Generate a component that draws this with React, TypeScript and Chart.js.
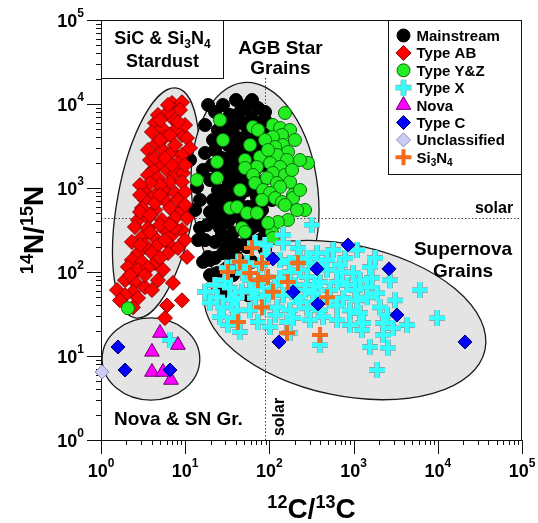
import React, { useEffect, useRef } from 'react';
import { Chart, registerables } from 'chart.js';
import { drawPoint } from 'chart.js/helpers';

Chart.register(...registerables);

const FONT = '"Liberation Sans", Arial, Helvetica, sans-serif';

// ---- data: [12C/13C, 14N/15N] ----
const mainstream: number[][] = [
  [18.7, 9730], [28.1, 9730], [55.7, 9730], [73.2, 8960], [88.7, 8035], [44.8, 8035], [34.0, 7396], [62.1, 6814],
  [81.7, 6106], [49.9, 5781], [37.0, 5180], [17.2, 5623], [24.5, 4904], [67.5, 4640], [91.2, 4276], [42.4, 3939],
  [21.4, 3728], [54.2, 3530], [32.2, 3250], [77.3, 2994], [39.0, 2834], [17.2, 2610], [58.9, 2472], [27.3, 2277],
  [11.4, 2154], [84.0, 2154], [44.8, 1985], [34.0, 1730], [16.3, 1638], [67.5, 1638], [51.3, 1428], [24.5, 1428],
  [19.7, 1245], [39.0, 1178], [81.7, 1178], [58.9, 1000], [13.8, 1028], [29.7, 947], [44.8, 826], [71.2, 781],
  [15.0, 720], [23.9, 760], [35.9, 663], [55.7, 594], [13.1, 547], [19.7, 518], [81.7, 547], [31.3, 477],
  [44.8, 439], [67.5, 394], [18.2, 363], [25.9, 334], [37.0, 291], [54.2, 276], [14.2, 240], [22.6, 228],
  [34.0, 261], [77.3, 240], [31.3, 198], [54.2, 198], [28.1, 168], [18.7, 151], [41.2, 147], [19.7, 139],
  [62.1, 132], [23.9, 97], [19.7, 92], [37.0, 92], [27.3, 56], [58.9, 56], [88.7, 183], [102, 334],
  [107, 720], [102, 1428], [102, 2834], [51.3, 1086], [32.2, 2154], [62.1, 3728], [42.4, 6450], [29.7, 4276],
  [22.6, 2834], [47, 1638], [73.2, 477], [48.6, 363], [21.4, 720], [25.9, 547], [16.3, 132], [22.6, 74],
  [55.7, 53], [40.1, 11160], [62.1, 11160], [32.2, 5623], [55.7, 4904], [73.2, 3728], [35.9, 2472], [52.7, 2834],
  [67.5, 2154], [27.3, 1730], [42.4, 1428], [32.2, 1245], [62.1, 1245], [67.5, 628], [35.9, 947], [24.5, 947],
  [44.8, 628], [32.2, 394], [62.1, 334], [42.4, 210], [22.6, 147], [34.0, 121], [48.6, 121], [29.7, 80],
  [77.3, 363], [88.7, 720], [81.7, 1880], [88.7, 6450], [22.6, 8035], [51.3, 8960], [73.2, 5623], [29.7, 3530],
  [44.8, 2834], [81.7, 2472], [20.8, 1879], [58.9, 1316], [29.7, 720], [54.2, 947], [41.2, 518], [22.6, 416],
  [58.9, 439], [17.2, 240], [27.3, 276], [34.0, 159], [15.0, 334], [88.7, 316],
];

const typeAB: number[][] = [
  [6.97, 10280], [9.16, 10500], [8.67, 8483], [6.97, 6814], [4.38, 5940], [4.03, 4640], [5.30, 5180], [5.75, 4048],
  [9.16, 4276], [10.5, 3939], [4.62, 3434], [3.62, 2834], [5.45, 2834], [6.97, 2683], [9.16, 2472], [8.21, 1985],
  [5.02, 1985], [4.15, 1638], [6.08, 1638], [7.56, 1509], [9.42, 1509], [3.62, 1428], [4.75, 1316], [6.60, 1178],
  [9.16, 1178], [3.33, 896], [4.38, 826], [5.75, 896], [7.56, 872], [9.95, 896], [3.33, 720], [5.75, 720],
  [3.07, 578], [4.38, 547], [6.60, 578], [9.16, 547], [2.75, 416], [3.62, 439], [5.30, 416], [7.56, 439],
  [10.5, 439], [2.53, 343], [3.62, 334], [5.75, 316], [9.16, 316], [3.07, 261], [4.38, 254], [6.97, 276],
  [2.33, 228], [9.95, 240], [3.33, 210], [4.75, 210], [6.25, 221], [2.75, 168], [4.03, 168], [6.25, 168],
  [10.5, 151], [2.33, 139], [3.07, 132], [4.38, 128], [2.09, 115], [2.75, 106], [3.62, 112], [5.45, 106],
  [4.75, 80], [1.93, 80], [2.53, 76], [3.33, 66], [7.16, 74], [1.55, 61], [2.40, 58], [4.03, 61],
  [2.75, 49], [9.16, 46], [6.08, 40], [2.40, 38], [6.25, 8035], [5.02, 3728], [7.56, 3250], [3.82, 2154],
  [6.97, 1879], [5.02, 1086], [3.82, 1147], [8.21, 720], [4.38, 663], [2.91, 518], [5.02, 363], [7.56, 334],
  [3.82, 299], [5.75, 240], [8.21, 193], [5.02, 147], [3.33, 92], [1.93, 53], [8.0, 5180], [9.95, 5623],
  [2.91, 1086], [4.75, 7396], [11.4, 2994], [1.68, 46], [5.75, 28.3], [6.25, 9730], [5.02, 6450], [8.21, 6106],
  [6.60, 4276], [4.38, 2277], [5.75, 2277], [9.95, 1879], [2.91, 826], [5.02, 826], [9.95, 628], [3.82, 477],
  [6.60, 363], [2.91, 210], [2.21, 92],
];

const typeYZ: number[][] = [
  [25.9, 6450], [153, 7817], [110, 5623], [134, 5180], [176, 4904], [63.8, 5322], [73.2, 4904], [28.1, 3728],
  [141, 4276], [110, 4048], [145, 3250], [58.9, 3250], [117, 3077], [166, 2683], [123, 2472], [77.3, 2340],
  [51.3, 2154], [23.9, 2040], [287, 1985], [162, 2154], [102, 1985], [71.2, 1778], [134, 1778], [51.3, 1730],
  [110, 1509], [153, 1428], [93.6, 1316], [23.9, 1316], [13.8, 1245], [63.8, 1428], [67.5, 1147], [123, 1147],
  [176, 1178], [44.8, 947], [84.0, 947], [134, 1028], [102, 872], [191, 826], [34.0, 578], [41.2, 594],
  [54.2, 504], [71.2, 504], [47.3, 334], [51.3, 299], [117, 760], [141, 681], [191, 760], [265, 547],
  [213, 547], [166, 416], [126, 394], [107, 299], [110, 254], [96.2, 383], [2.09, 37], [88.7, 3728],
  [201, 3728], [231, 2154], [81.7, 720], [153, 628], [231, 947], [96.2, 2834], [186, 1638],
];

const typeX: number[][] = [
  [321, 363], [145, 276], [67.5, 221], [88.7, 210], [145, 221], [219, 193], [367, 168], [569, 183],
  [1097, 183], [689, 121], [42.4, 132], [54.2, 128], [77.3, 121], [134, 139], [176, 128], [304, 128],
  [483, 106], [1566, 115], [984, 97], [2706, 80], [31.3, 112], [48.6, 97], [93.6, 87], [134, 85],
  [280, 87], [399, 76], [635, 76], [835, 70], [1443, 66], [1897, 56], [17.2, 58], [23.9, 50],
  [34.0, 65], [47.3, 58], [71.2, 66], [102, 58], [145, 53], [213, 50], [330, 56], [525, 46],
  [748, 49], [1097, 46], [1443, 50], [28.1, 38], [41.2, 35], [58.9, 35], [84.0, 38], [123, 38],
  [176, 35], [280, 37], [399, 35], [635, 40], [906, 35], [1191, 32.5], [2059, 38], [2495, 30.8],
  [25.9, 29.1], [37.0, 28.3], [102, 22.1], [162, 25.4], [191, 28.3], [433, 29.1], [635, 26.8], [1294, 24.7],
  [2235, 24.7], [2938, 21.5], [4306, 23.4], [6143, 61], [9780, 28.3], [44.8, 19.3], [176, 18.8], [399, 13.5],
  [1259, 20.4], [2235, 17.8], [1566, 12.8], [2564, 12.5], [1897, 6.81], [280, 147], [483, 139], [35.9, 46],
  [96.2, 53], [58.9, 80], [117, 70], [201, 70], [67.5, 49], [231, 106], [348, 70], [525, 61],
  [1191, 80], [790, 147], [19.7, 43], [29.7, 80], [96.2, 159], [231, 44], [6.60, 15.5], [22.6, 70],
  [39.0, 49], [62.1, 61], [81.7, 76], [176, 100], [265, 61], [378, 46], [728, 100], [1040, 61],
  [1655, 85], [3102, 46], [906, 23.4], [304, 26.8], [117, 30.8], [32.2, 23.4], [73.2, 25.4], [231, 147],
  [422, 121], [1795, 147],
];

const nova: number[][] = [
  [5.02, 18.8], [8.21, 13.5], [4.03, 11.2], [4.03, 6.45], [5.45, 6.45], [6.78, 5.18],
];

const typeC: number[][] = [
  [858, 210], [110, 143], [367, 109], [2633, 109], [191, 58], [378, 41.6], [3276, 30.8], [130, 14.7],
  [21040, 14.7], [1.59, 12.8], [1.93, 6.81], [6.60, 6.81],
];

const unclassified: number[][] = [[1.03, 6.45]];

const si3n4: number[][] = [
  [62.1, 193], [81.7, 128], [219, 128], [32.2, 100], [58.9, 97], [73.2, 80], [96.2, 87], [166, 76],
  [81.7, 38], [42.4, 25.4], [483, 50], [162, 18.8], [399, 17.8], [44.8, 132], [110, 58],
];

// ---- axes ----
const decades = [1, 10, 100, 1000, 10000, 100000];
const decadeExponents = ['0', '1', '2', '3', '4', '5'];
const minorMultipliers = [2, 3, 4, 5, 6, 7, 8, 9];

// solar reference values
const solarC = 89;
const solarN = 441;
const solarCLineTop = 21000;

// ---- region ellipses: centre (data), semi-axes in decades, rotation deg ----
const regions = [
  { cx: 4.5, cy: 663, rx: 0.46, ry: 1.39, rot: 10.3 },
  { cx: 67.5, cy: 826, rx: 0.75, ry: 1.345, rot: -6 },
  { cx: 790, cy: 26.8, rx: 1.70, ry: 0.90, rot: 12 },
  { cx: 3.92, cy: 9.21, rx: 0.58, ry: 0.49, rot: 0 },
];

type Part = { t: string; size: number; dy?: number };

const P = (t: string, size: number, dy = 0): Part => ({ t, size, dy });

const stardustBox = { x1: 1, y1: 100000, x2: 28.1, y2: 20390 };
const stardustLines: Part[][] = [
  [P('SiC & Si', 18), P('3', 12, 4), P('N', 18), P('4', 12, 4)],
  [P('Stardust', 18)],
];

const notes = [
  { lines: [[P('AGB Star', 19)], [P('Grains', 19)]], x: 135, y: 35780, lh: 20 },
  { lines: [[P('Supernova', 19)], [P('Grains', 19)]], x: 19925, y: 142.8, lh: 22 },
  { lines: [[P('Nova & SN Gr.', 19)]], x: 8.32, y: 1.83, lh: 20 },
];

const seriesDefs = [
  { parts: [P('Mainstream', 15)], data: mainstream, pointStyle: 'circle', radius: 6.5, bg: '#000000', border: '#000000', bw: 1, order: 9 },
  { parts: [P('Type AB', 15)], data: typeAB, pointStyle: 'rectRot', radius: 7.5, bg: '#ff0000', border: '#8a0000', bw: 1, order: 8 },
  { parts: [P('Type Y&Z', 15)], data: typeYZ, pointStyle: 'circle', radius: 6.5, bg: '#22ee22', border: '#0b6b0b', bw: 1, order: 7 },
  { parts: [P('Type X', 15)], data: typeX, pointStyle: 'cross', radius: 8, bg: '#33ffff', border: '#33ffff', bw: 4, outline: '#86acac', order: 6 },
  { parts: [P('Nova', 15)], data: nova, pointStyle: 'triangle', radius: 8.5, bg: '#ff00ff', border: '#6a006a', bw: 1, order: 5 },
  { parts: [P('Type C', 15)], data: typeC, pointStyle: 'rectRot', radius: 7, bg: '#0000ff', border: '#00006a', bw: 1, order: 4 },
  { parts: [P('Unclassified', 15)], data: unclassified, pointStyle: 'rectRot', radius: 7, bg: '#ccccf5', border: '#8c8cb4', bw: 1, order: 3 },
  { parts: [P('Si', 15), P('3', 10, 3), P('N', 15), P('4', 10, 3)], data: si3n4, pointStyle: 'cross', radius: 8, bg: '#f26c1c', border: '#f26c1c', bw: 4, order: 2 },
];

function partsWidth(ctx: CanvasRenderingContext2D, parts: Part[]) {
  let w = 0;
  for (const p of parts) {
    ctx.font = `bold ${p.size}px ${FONT}`;
    w += ctx.measureText(p.t).width;
  }
  return w;
}

function drawParts(ctx: CanvasRenderingContext2D, parts: Part[], x: number, y: number, align: string) {
  const w = partsWidth(ctx, parts);
  let cx = align === 'left' ? x : align === 'center' ? x - w / 2 : x - w;
  ctx.textAlign = 'left';
  ctx.textBaseline = 'alphabetic';
  for (const p of parts) {
    ctx.font = `bold ${p.size}px ${FONT}`;
    ctx.fillText(p.t, cx, y + (p.dy || 0));
    cx += ctx.measureText(p.t).width;
  }
  return w;
}

const decor = {
  id: 'decor',
  beforeDatasetsDraw(chart: any) {
    const { ctx, chartArea: a, scales } = chart;
    const xs = scales.x, ys = scales.y;
    const decX = Math.abs(xs.getPixelForValue(10) - xs.getPixelForValue(1));
    const decY = Math.abs(ys.getPixelForValue(10) - ys.getPixelForValue(1));
    ctx.save();

    for (const r of regions) {
      ctx.beginPath();
      ctx.ellipse(xs.getPixelForValue(r.cx), ys.getPixelForValue(r.cy), r.rx * decX, r.ry * decY, (r.rot * Math.PI) / 180, 0, Math.PI * 2);
      ctx.fillStyle = '#e4e4e4';
      ctx.fill();
      ctx.lineWidth = 1.3;
      ctx.strokeStyle = '#1a1a1a';
      ctx.stroke();
    }

    ctx.setLineDash([1.5, 2]);
    ctx.lineWidth = 1;
    ctx.strokeStyle = '#444';
    const sx = Math.round(xs.getPixelForValue(solarC)) + 0.5;
    const sy = Math.round(ys.getPixelForValue(solarN)) + 0.5;
    ctx.beginPath();
    ctx.moveTo(sx, a.bottom);
    ctx.lineTo(sx, ys.getPixelForValue(solarCLineTop));
    ctx.moveTo(a.left, sy);
    ctx.lineTo(a.right, sy);
    ctx.stroke();
    ctx.setLineDash([]);

    ctx.fillStyle = '#000';
    drawParts(ctx, [P('solar', 16)], xs.getPixelForValue(46500), ys.getPixelForValue(504), 'center');
    ctx.save();
    ctx.translate(xs.getPixelForValue(149), ys.getPixelForValue(1.88));
    ctx.rotate(-Math.PI / 2);
    drawParts(ctx, [P('solar', 16)], 0, 0, 'center');
    ctx.restore();

    for (const n of notes) {
      const cx = xs.getPixelForValue(n.x);
      const cy = ys.getPixelForValue(n.y);
      const total = (n.lines.length - 1) * n.lh;
      n.lines.forEach((ln: Part[], i: number) => {
        const lc = cy - total / 2 + i * n.lh;
        drawParts(ctx, ln, cx, lc + ln[0].size * 0.36, 'center');
      });
    }

    const bx1 = Math.round(xs.getPixelForValue(stardustBox.x1)) + 0.5;
    const by1 = Math.round(ys.getPixelForValue(stardustBox.y1)) + 0.5;
    const bx2 = Math.round(xs.getPixelForValue(stardustBox.x2)) + 0.5;
    const by2 = Math.round(ys.getPixelForValue(stardustBox.y2)) + 0.5;
    ctx.fillStyle = '#fff';
    ctx.fillRect(bx1, by1, bx2 - bx1, by2 - by1);
    ctx.strokeStyle = '#111';
    ctx.lineWidth = 1;
    ctx.strokeRect(bx1, by1, bx2 - bx1, by2 - by1);
    ctx.fillStyle = '#000';
    const bcx = (bx1 + bx2) / 2, bcy = (by1 + by2) / 2;
    stardustLines.forEach((ln, i) => {
      const lc = bcy - 11.5 + i * 23;
      drawParts(ctx, ln, bcx, lc + 18 * 0.36, 'center');
    });

    ctx.strokeStyle = '#111';
    ctx.lineWidth = 1;
    ctx.strokeRect(a.left + 0.5, a.top + 0.5, a.right - a.left - 1, a.bottom - a.top);

    ctx.beginPath();
    decades.forEach((d, i) => {
      const px = Math.round(xs.getPixelForValue(d)) + 0.5;
      const py = Math.round(ys.getPixelForValue(d)) + 0.5;
      ctx.moveTo(px, a.bottom);
      ctx.lineTo(px, a.bottom + 14);
      ctx.moveTo(a.left, py);
      ctx.lineTo(a.left - 14, py);
      if (i < decades.length - 1) {
        for (const m of minorMultipliers) {
          const mx = Math.round(xs.getPixelForValue(d * m)) + 0.5;
          const my = Math.round(ys.getPixelForValue(d * m)) + 0.5;
          ctx.moveTo(mx, a.bottom);
          ctx.lineTo(mx, a.bottom + 5);
          ctx.moveTo(a.left, my);
          ctx.lineTo(a.left - 5, my);
        }
      }
    });
    ctx.stroke();

    ctx.fillStyle = '#000';
    decades.forEach((d, i) => {
      const parts = [P('10', 18), P(decadeExponents[i], 12, -10)];
      drawParts(ctx, parts, xs.getPixelForValue(d), a.bottom + 37, 'center');
      drawParts(ctx, parts, a.left - 17, ys.getPixelForValue(d) + 7, 'right');
    });

    const xt = [P('12', 18, -10), P('C/', 28), P('13', 18, -10), P('C', 28)];
    drawParts(ctx, xt, (a.left + a.right) / 2, a.bottom + 78, 'center');
    const yt = [P('14', 18, -10), P('N/', 28), P('15', 18, -10), P('N', 28)];
    ctx.save();
    ctx.translate(a.left - 58, (a.top + a.bottom) / 2);
    ctx.rotate(-Math.PI / 2);
    drawParts(ctx, yt, 0, 0, 'center');
    ctx.restore();

    ctx.restore();
  },
  afterDatasetsDraw(chart: any) {
    const { ctx, chartArea: a } = chart;
    ctx.save();
    const w = 134, h = 154;
    const lx = Math.round(a.right - w) + 0.5;
    const ly = Math.round(a.top) + 0.5;
    ctx.fillStyle = '#fff';
    ctx.fillRect(lx, ly, w, h);
    ctx.strokeStyle = '#111';
    ctx.lineWidth = 1;
    ctx.strokeRect(lx, ly, w - 1, h);
    seriesDefs.forEach((s: any, i: number) => {
      const cy = ly + 15 + i * 17.4;
      const mx = lx + 15;
      if (s.outline) {
        ctx.strokeStyle = s.outline;
        ctx.lineWidth = s.bw + 1.8;
        drawPoint(ctx, { pointStyle: s.pointStyle, radius: s.radius, rotation: 0, borderWidth: s.bw + 1.8 } as any, mx, cy);
      }
      ctx.fillStyle = s.bg;
      ctx.strokeStyle = s.border;
      ctx.lineWidth = s.bw;
      drawPoint(ctx, { pointStyle: s.pointStyle, radius: s.radius, rotation: 0, borderWidth: s.bw } as any, mx, cy);
      ctx.fillStyle = '#000';
      drawParts(ctx, s.parts, lx + 28, cy + 5.4, 'left');
    });
    ctx.restore();
  },
};

function buildDatasets() {
  const out: any[] = [];
  for (const s of seriesDefs as any[]) {
    const pts = s.data.map((v: number[]) => ({ x: v[0], y: v[1] }));
    if (s.outline) {
      out.push({
        label: 'outline', data: pts, pointStyle: s.pointStyle, pointRadius: s.radius, pointHoverRadius: s.radius,
        pointBackgroundColor: s.outline, pointBorderColor: s.outline, pointBorderWidth: s.bw + 1.8,
        order: s.order + 0.5, clip: false, showLine: false,
      });
    }
    out.push({
      label: s.parts.map((p: Part) => p.t).join(''), data: pts, pointStyle: s.pointStyle, pointRadius: s.radius,
      pointHoverRadius: s.radius, pointBackgroundColor: s.bg, pointBorderColor: s.border, pointBorderWidth: s.bw,
      order: s.order, clip: false, showLine: false,
    });
  }
  return out;
}

export default function App() {
  const ref = useRef<HTMLCanvasElement>(null);
  useEffect(() => {
    const canvas = ref.current!;
    const chart = new Chart(canvas, {
      type: 'scatter',
      data: { datasets: buildDatasets() },
      options: {
        animation: false,
        responsive: false,
        devicePixelRatio: 1,
        events: [],
        layout: { padding: { left: 101, right: 16, top: 20, bottom: 83 } },
        scales: {
          x: { type: 'logarithmic', min: 1, max: 100000, display: false },
          y: { type: 'logarithmic', min: 1, max: 100000, display: false },
        },
        plugins: { legend: { display: false }, tooltip: { enabled: false } },
      } as any,
      plugins: [decor as any],
    });
    return () => chart.destroy();
  }, []);
  return (
    <div style={{ position: 'fixed', left: 0, top: 0, width: 538, height: 523, background: '#fff' }}>
      <canvas ref={ref} width={538} height={523} style={{ display: 'block', width: 538, height: 523 }} />
    </div>
  );
}
